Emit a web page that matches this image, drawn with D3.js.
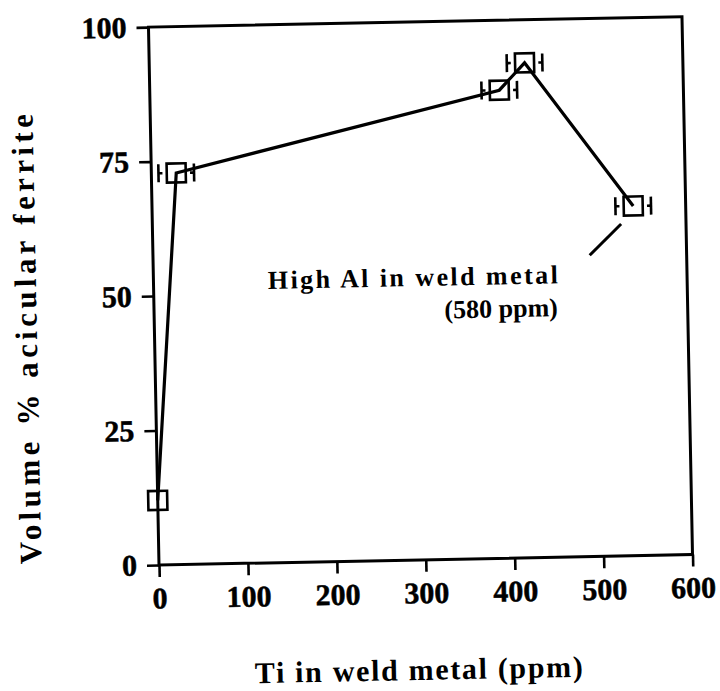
<!DOCTYPE html>
<html>
<head>
<meta charset="utf-8">
<script src="https://cdn.jsdelivr.net/npm/d3@7"></script>
<style>
  html, body { margin: 0; padding: 0; background: #fff; }
  svg { display: block; }
  text { font-family: "Liberation Serif", "Times New Roman", serif; font-weight: bold; fill: #000; }
</style>
</head>
<body>
<svg id="chart" width="720" height="691"></svg>
<script>
// ---- data ----
const tiPpm     = [0, 28, 393, 422, 541];
const ferrite   = [12, 72.8, 87, 92, 65];
const tiErr     = [0, 20, 20, 20, 20];
const xTicks    = [0, 100, 200, 300, 400, 500, 600];
const yTicks    = [0, 25, 50, 75, 100];
const xTitle    = "Ti in weld metal (ppm)";
const yTitle    = "Volume % acicular ferrite";
const noteLines = ["High Al in weld metal", "(580 ppm)"];
const leaderPts = [[491, 56], [527, 61.7]];

// ---- layout ----
const W = 533.6, H = 538;
const svg = d3.select("#chart");
const g = svg.append("g").attr("transform", "translate(159,565) rotate(-1.12)");

const x = d3.scaleLinear().domain([0, 600]).range([0, W]);
const y = d3.scaleLinear().domain([0, 100]).range([0, -H]);

// frame
g.append("rect")
  .attr("x", 0).attr("y", -H).attr("width", W).attr("height", H)
  .attr("fill", "none").attr("stroke", "#000").attr("stroke-width", 3);

// axes
const xAxis = g.append("g")
  .call(d3.axisBottom(x).tickValues(xTicks).tickSize(12).tickPadding(10).tickFormat(d3.format("d")));
const yAxis = g.append("g")
  .call(d3.axisLeft(y).tickValues(yTicks).tickSize(12).tickPadding(10).tickFormat(d3.format("d")));
[xAxis, yAxis].forEach(a => {
  a.select(".domain").remove();
  a.selectAll(".tick line").attr("stroke", "#000").attr("stroke-width", 2.6);
  a.selectAll(".tick text")
    .attr("font-family", "Liberation Serif, serif")
    .attr("font-weight", "bold")
    .attr("font-size", 30)
    .attr("fill", "#000")
    .attr("stroke", "#000").attr("stroke-width", 0.5);
});

// data
const pts = tiPpm.map((t, i) => ({ t, f: ferrite[i], e: tiErr[i] }));

g.append("path")
  .datum(pts)
  .attr("fill", "none").attr("stroke", "#000").attr("stroke-width", 3.2)
  .attr("stroke-linejoin", "miter")
  .attr("d", d3.line().x(d => x(d.t)).y(d => y(d.f)));

// error bar caps
const eb = g.append("g").attr("stroke", "#000").attr("stroke-width", 2.6).attr("fill", "none");
pts.filter(d => d.e > 0).forEach(d => {
  [-1, 1].forEach(s => {
    const cx = x(d.t + s * d.e), cy = y(d.f);
    eb.append("line").attr("x1", cx).attr("x2", cx).attr("y1", cy - 9).attr("y2", cy + 9);
    eb.append("line").attr("x1", cx).attr("x2", cx - s * 4).attr("y1", cy).attr("y2", cy);
  });
});

// markers
g.append("g").selectAll("rect.m").data(pts).join("rect")
  .attr("class", "m")
  .attr("x", d => x(d.t) - 9.5).attr("y", d => y(d.f) - 9.5)
  .attr("width", 19).attr("height", 19)
  .attr("fill", "none").attr("stroke", "#000").attr("stroke-width", 2.6);

// annotation
g.append("text")
  .attr("x", x(128.6)).attr("y", y(50.9))
  .attr("font-size", 26)
  .attr("textLength", 290).attr("lengthAdjust", "spacing")
  .text(noteLines[0]);
g.append("text")
  .attr("x", x(454)).attr("y", y(44.8))
  .attr("font-size", 26).attr("text-anchor", "end")
  .text(noteLines[1]);
g.append("line")
  .attr("x1", x(leaderPts[0][0])).attr("y1", y(leaderPts[0][1]))
  .attr("x2", x(leaderPts[1][0])).attr("y2", y(leaderPts[1][1]))
  .attr("stroke", "#000").attr("stroke-width", 3);

// axis titles
g.append("text")
  .attr("x", 257.7).attr("y", 120)
  .attr("font-size", 30).attr("text-anchor", "middle")
  .attr("textLength", 328).attr("lengthAdjust", "spacing")
  .text(xTitle);
g.append("text")
  .attr("transform", "translate(-117.6,-228.4) rotate(-90)")
  .attr("font-size", 31).attr("text-anchor", "middle")
  .attr("textLength", 450).attr("lengthAdjust", "spacing")
  .text(yTitle);
</script>
</body>
</html>
